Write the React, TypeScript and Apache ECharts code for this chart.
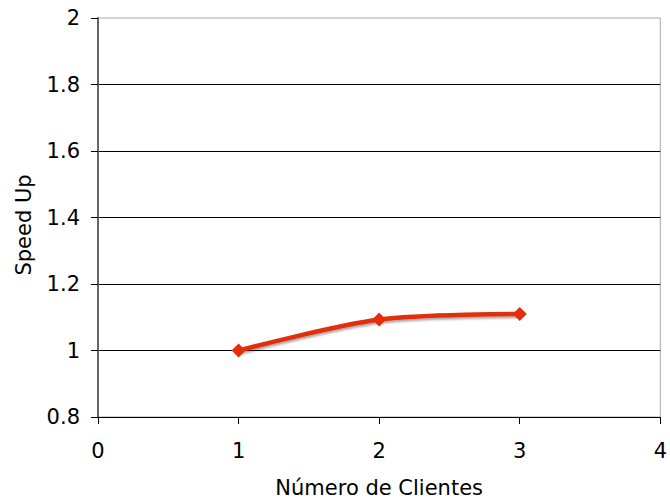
import React, { useEffect, useRef } from "react";
import * as echarts from "echarts";

const clients = [1, 2, 3];
const speedUp = [1.0, 1.093, 1.11];
const xTicks = [0, 1, 2, 3, 4];
const yTicks = [0.8, 1.0, 1.2, 1.4, 1.6, 1.8, 2.0];

export default function App() {
  const ref = useRef<HTMLDivElement>(null);
  useEffect(() => {
    if (!ref.current) return;
    const chart = echarts.init(ref.current, null, { renderer: "svg" });
    const font = "'DejaVu Sans', Verdana, sans-serif";
    chart.setOption({
      animation: false,
      textStyle: { fontFamily: font },
      grid: { left: 98, right: 4, top: 18, bottom: 83, show: true, borderColor: "#aaaaaa", borderWidth: 1 },
      xAxis: {
        type: "value",
        min: xTicks[0],
        max: xTicks[xTicks.length - 1],
        interval: 1,
        name: "Número de Clientes",
        nameLocation: "middle",
        nameGap: 60,
        nameTextStyle: { fontSize: 21, color: "#000", fontFamily: font },
        axisLine: { onZero: false, lineStyle: { color: "#000", width: 1 } },
        axisTick: { show: true, length: 7, lineStyle: { color: "#000" } },
        axisLabel: { fontSize: 21, color: "#000", margin: 23, fontFamily: font },
        splitLine: { show: false },
      },
      yAxis: {
        type: "value",
        min: yTicks[0],
        max: yTicks[yTicks.length - 1],
        interval: 0.2,
        name: "Speed Up",
        nameLocation: "middle",
        nameGap: 64,
        nameTextStyle: { fontSize: 21, color: "#000", fontFamily: font, padding: [0, 15, 0, 0] },
        axisLine: { show: true, lineStyle: { color: "#666", width: 2 } },
        axisTick: { show: true, length: 7, lineStyle: { color: "#000" } },
        axisLabel: {
          fontSize: 21,
          color: "#000",
          margin: 18,
          fontFamily: font,
          formatter: (v: number) => String(Math.round(v * 10) / 10),
        },
        splitLine: { show: true, showMaxLine: false, lineStyle: { color: "#000", width: 1 } },
      },
      series: [
        {
          type: "line",
          data: clients.map((c, i) => [c, speedUp[i]]),
          smooth: 0.3,
          symbol: "diamond",
          symbolSize: 14,
          lineStyle: {
            color: "#e32d0c",
            width: 4.5,
            shadowColor: "rgba(0,0,0,0.35)",
            shadowBlur: 2,
            shadowOffsetX: 1,
            shadowOffsetY: 2,
          },
          itemStyle: { color: "#e32d0c" },
        },
      ],
    });
    return () => chart.dispose();
  }, []);
  return <div ref={ref} style={{ width: 670, height: 503, position: "absolute", left: 0, top: 0 }} />;
}
